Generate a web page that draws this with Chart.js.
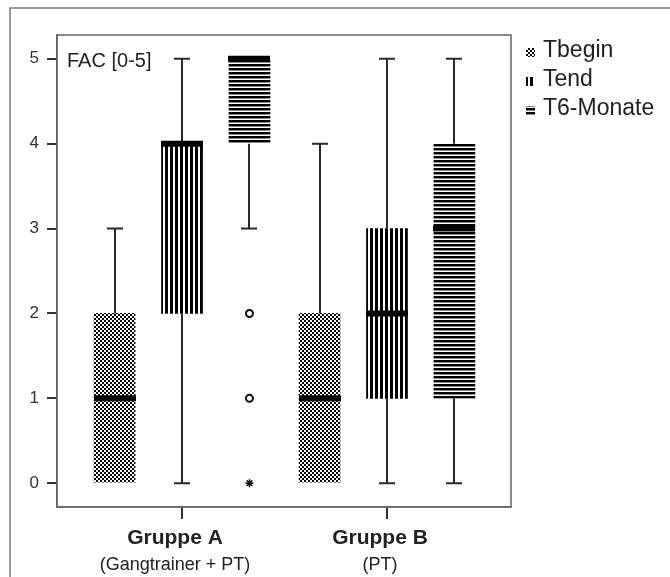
<!DOCTYPE html>
<html>
<head>
<meta charset="utf-8">
<script src="https://cdn.jsdelivr.net/npm/chart.js@4.4.1/dist/chart.umd.min.js"></script>
<style>
  html, body { margin: 0; padding: 0; background: #fff; }
  canvas { display: block; }
</style>
</head>
<body>
<canvas id="grafico" width="670" height="577"></canvas>
<script>
// Daten
const gruppen = ["Gruppe A", "Gruppe B"];
const gruppenInfo = ["(Gangtrainer + PT)", "(PT)"];
const serien = ["Tbegin", "Tend", "T6-Monate"];
// je Gruppe: [min, Q1, Median, Q3, max]
const tbegin = [[0, 0, 1, 2, 3], [0, 0, 1, 2, 4]];
const tend = [[0, 2, 4, 4, 5], [0, 1, 2, 3, 5]];
const t6Monate = [[3, 4, 5, 5, 5], [0, 1, 3, 4, 5]];
const ausreisser = [2, 1];   // Kreise, T6-Monate Gruppe A
const extremwerte = [0];     // Stern, T6-Monate Gruppe A
const yTicks = [0, 1, 2, 3, 4, 5];

// Lage der Gruppen auf der x-Achse
const gruppenX = [1, 2];
const serienOffset = [-0.329, 0, 0.329];
const alleWerte = [tbegin, tend, t6Monate];

const canvas = document.getElementById("grafico");
const ctx = canvas.getContext("2d");

function muster(w, h, zeichne) {
  const c = document.createElement("canvas");
  c.width = w;
  c.height = h;
  const g = c.getContext("2d");
  g.fillStyle = "#fff";
  g.fillRect(0, 0, w, h);
  g.fillStyle = "#000";
  zeichne(g);
  return ctx.createPattern(c, "repeat");
}

const karo = muster(4, 4, g => { g.fillRect(0, 0, 2, 2); g.fillRect(2, 2, 2, 2); });
const senkrecht = muster(5, 1, g => { g.fillRect(0, 0, 3, 1); });
const waagerecht = muster(1, 4, g => { g.fillRect(0, 0, 1, 2); g.fillStyle = "#888"; g.fillRect(0, 2, 1, 1); });
const fuellungen = [karo, senkrecht, waagerecht];

const boxDatasets = serien.map((name, s) => ({
  type: "bar",
  label: name,
  data: gruppenX.map((gx, g) => ({ x: gx + serienOffset[s], y: [alleWerte[s][g][1], alleWerte[s][g][3]] })),
  backgroundColor: fuellungen[s],
  borderWidth: 0,
  barThickness: 41,
  grouped: false,
}));

const boxplotPlugin = {
  id: "boxplot",
  afterDatasetsDraw(chart) {
    const { ctx, scales: { x, y } } = chart;
    ctx.save();
    ctx.lineCap = "butt";
    alleWerte.forEach((werte, s) => {
      werte.forEach((w, g) => {
        const px = Math.round(x.getPixelForValue(gruppenX[g] + serienOffset[s]));
        const [min, q1, med, q3, max] = w;
        ctx.strokeStyle = "#2a2a2a";
        ctx.lineWidth = 2;
        ctx.beginPath();
        if (max > q3) {
          ctx.moveTo(px, y.getPixelForValue(q3));
          ctx.lineTo(px, y.getPixelForValue(max));
          ctx.moveTo(px - 8, y.getPixelForValue(max));
          ctx.lineTo(px + 8, y.getPixelForValue(max));
        }
        if (min < q1) {
          ctx.moveTo(px, y.getPixelForValue(q1));
          ctx.lineTo(px, y.getPixelForValue(min));
          ctx.moveTo(px - 8, y.getPixelForValue(min));
          ctx.lineTo(px + 8, y.getPixelForValue(min));
        }
        ctx.stroke();
        ctx.strokeStyle = "#000";
        ctx.lineWidth = 6;
        ctx.beginPath();
        ctx.moveTo(px - 21, y.getPixelForValue(med));
        ctx.lineTo(px + 21, y.getPixelForValue(med));
        ctx.stroke();
      });
    });
    ctx.restore();
  },
  afterDraw(chart) {
    const { ctx, chartArea: a, scales: { x, y } } = chart;
    ctx.save();
    // äußerer Rahmen (angeschnitten)
    ctx.strokeStyle = "#7a7a7a";
    ctx.lineWidth = 1.5;
    ctx.beginPath();
    ctx.moveTo(10, chart.height);
    ctx.lineTo(10, 8);
    ctx.lineTo(chart.width, 8);
    ctx.stroke();
    // Rahmen Diagrammfläche
    ctx.strokeStyle = "#666";
    ctx.strokeRect(a.left, a.top, a.right - a.left, a.bottom - a.top);

    ctx.fillStyle = "#222";
    ctx.textBaseline = "alphabetic";
    ctx.font = "20px 'Liberation Sans', Arial, sans-serif";
    ctx.textAlign = "left";
    ctx.fillText("FAC [0-5]", a.left + 10, y.getPixelForValue(5) + 8);

    // Gruppenbeschriftung
    ctx.textAlign = "center";
    gruppen.forEach((name, g) => {
      const px = x.getPixelForValue(gruppenX[g]) - 7;
      ctx.font = "bold 21px 'Liberation Sans', Arial, sans-serif";
      ctx.fillText(name, px, a.bottom + 37);
      ctx.font = "18px 'Liberation Sans', Arial, sans-serif";
      ctx.fillText(gruppenInfo[g], px, a.bottom + 63);
    });

    // Legende
    ctx.textAlign = "left";
    ctx.font = "23px 'Liberation Sans', Arial, sans-serif";
    chart.data.datasets.slice(0, serien.length).forEach((ds, i) => {
      const basis = a.top + 22 + i * 29;
      ctx.fillStyle = ds.backgroundColor;
      ctx.fillRect(a.right + 15, basis - 9, 9, 9);
      ctx.fillStyle = "#222";
      ctx.fillText(ds.label, a.right + 32, basis);
    });
    ctx.restore();
  },
};

new Chart(ctx, {
  type: "bar",
  data: {
    datasets: [
      ...boxDatasets,
      {
        type: "scatter",
        label: "Ausreißer",
        data: ausreisser.map(v => ({ x: gruppenX[0] + serienOffset[2], y: v })),
        pointStyle: "circle",
        radius: 3.5,
        borderWidth: 2,
        borderColor: "#111",
        backgroundColor: "#fff",
      },
      {
        type: "scatter",
        label: "Extremwerte",
        data: extremwerte.map(v => ({ x: gruppenX[0] + serienOffset[2], y: v })),
        pointStyle: "star",
        radius: 4,
        borderWidth: 1.5,
        borderColor: "#111",
      },
    ],
  },
  options: {
    responsive: false,
    animation: false,
    devicePixelRatio: 1,
    layout: { padding: { left: 0, top: 35, right: 159, bottom: 0 } },
    plugins: { legend: { display: false }, tooltip: { enabled: false } },
    scales: {
      x: {
        type: "linear",
        min: 0.39,
        max: 2.605,
        offset: false,
        afterBuildTicks: s => { s.ticks = gruppenX.map(v => ({ value: v })); },
        afterFit: s => { s.height = 70; },
        grid: { offset: false, drawOnChartArea: false, tickLength: 12, color: "#333", lineWidth: 2 },
        border: { color: "#666", width: 1.5 },
        ticks: { display: false },
      },
      y: {
        min: -0.28,
        max: 5.28,
        afterBuildTicks: s => { s.ticks = yTicks.map(v => ({ value: v })); },
        afterFit: s => { s.width = 57; },
        grid: { drawOnChartArea: false, tickLength: 10, color: "#333", lineWidth: 2 },
        border: { color: "#666", width: 1.5 },
        ticks: { padding: 8, color: "#333", font: { family: "'Liberation Sans', Arial, sans-serif", size: 17 } },
      },
    },
  },
  plugins: [boxplotPlugin],
});
</script>
</body>
</html>
